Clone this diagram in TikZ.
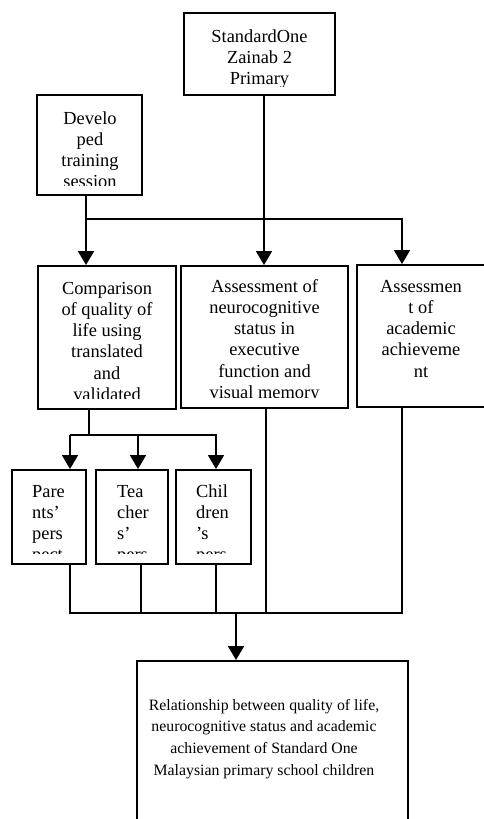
\documentclass[tikz,border=0pt]{standalone}
\usepackage{fontspec}
\setmainfont{Liberation Serif}
\usetikzlibrary{arrows.meta}
\newcommand\bxfont{\fontsize{18.4}{21.3}\selectfont}
\newcommand\relfont{\fontsize{15.8}{21.7}\selectfont}
\begin{document}
\begin{tikzpicture}[x=1pt,y=-1pt,
  box/.style={draw, line width=1.9pt, inner sep=0pt, rectangle},
  conn/.style={line width=1.7pt},
  lowconn/.style={line width=1.4pt},
  arr/.style={conn, -{Triangle[width=16pt,length=14pt]}},
  txt/.style={anchor=base, inner sep=0pt, font=\bxfont},
  ltxt/.style={anchor=base west, inner sep=0pt, font=\bxfont},
]
\useasboundingbox (0,0) rectangle (484,819);
\clip (0,0) rectangle (484,819);

% boxes
\node[box, minimum width=151pt, minimum height=82pt] (top) at (259.5,54) {};
\node[box, minimum width=105pt, minimum height=100pt] (dev) at (89.5,145) {};
\node[box, minimum width=138pt, minimum height=143pt] (cmp) at (107,337.5) {};
\node[box, minimum width=167pt, minimum height=142pt] (neu) at (264.5,337) {};
\node[box, minimum width=143pt, minimum height=142pt] (aca) at (428.5,336) {};
\node[box, minimum width=74pt, minimum height=94pt] (par) at (49,517) {};
\node[box, minimum width=72pt, minimum height=94pt] (tea) at (132,517) {};
\node[box, minimum width=75pt, minimum height=94pt] (chi) at (213.5,517) {};
\node[box, minimum width=271pt, minimum height=199pt] (rel) at (272.5,760.5) {};

% texts (clipped like the original text frames)
\begin{scope}
\clip (184,13) rectangle (335,86);
\node[txt] (ttop) at (259.5,42) {\parbox[t]{150pt}{\centering StandardOne\\Zainab 2\\Primary}};
\end{scope}
\begin{scope}
\clip (37,95) rectangle (142,185);
\node[txt] (tdev) at (90,124) {\parbox[t]{100pt}{\centering Develo\\ped\\training\\session}};
\end{scope}
\begin{scope}
\clip (38,266) rectangle (176,398);
\node[txt] (tcmp) at (107,294) {\parbox[t]{136pt}{\centering Comparison\\of quality of\\life using\\translated\\and\\validated}};
\end{scope}
\begin{scope}
\clip (181,266) rectangle (348,397);
\node[txt] (tneu) at (264.5,292) {\parbox[t]{165pt}{\centering Assessment of\\neurocognitive\\status in\\executive\\function and\\visual memory}};
\end{scope}
\begin{scope}
\clip (357,265) rectangle (484,397);
\node[txt] (taca) at (421,292) {\parbox[t]{120pt}{\centering Assessmen\\t of\\academic\\achieveme\\nt}};
\end{scope}
\begin{scope}
\clip (12,470) rectangle (251,553);
\node[ltxt] (tpar) at (32,497) {\parbox[t]{50pt}{\raggedright Pare\\nts’\\pers\\pect}};
\node[ltxt] (ttea) at (117,497) {\parbox[t]{50pt}{\raggedright Tea\\cher\\s’\\pers}};
\node[ltxt] (tchi) at (196,497) {\parbox[t]{50pt}{\raggedright Chil\\dren\\’s\\pers}};
\end{scope}
\node[anchor=base, inner sep=0pt, font=\relfont] (trel) at (264,710) {\parbox[t]{268pt}{\centering Relationship between quality of life,\\neurocognitive status and academic\\achievement of Standard One\\Malaysian primary school children}};

% junction coordinates
\coordinate (xa) at (264,0);
\coordinate (j1) at (86,219);
\coordinate (j1r) at (402,219);
\coordinate (xc) at (89,0);
\coordinate (j2l) at (70,435);
\coordinate (j2m) at (138,435);
\coordinate (j2r) at (216,435);
\coordinate (bl) at (70,613);
\coordinate (bt) at (141,613);
\coordinate (bc) at (216,613);
\coordinate (bn) at (266,613);
\coordinate (br) at (402,613);
\coordinate (bm) at (236,613);

% connectors
\draw[arr] (xa |- top.south) -- (xa |- neu.north);
\draw[arr] (j1 |- dev.south) -- (j1 |- cmp.north);
\draw[arr] (j1) -- (j1r) -- (j1r |- aca.north);
\draw[conn] (xc |- cmp.south) -- (xc |- j2l);
\draw[arr] (j2m) -- (j2m |- tea.north);
\draw[arr] (j2l) -- (j2l |- par.north);
\draw[arr] (j2l) -- (j2r) -- (j2r |- chi.north);

\draw[lowconn] (bl |- par.south) -- (bl) -- (br) -- (br |- aca.south);
\draw[lowconn] (bt |- tea.south) -- (bt);
\draw[lowconn] (bc |- chi.south) -- (bc);
\draw[lowconn] (bn |- neu.south) -- (bn);
\draw[arr] (bm) -- (bm |- rel.north);
\end{tikzpicture}
\end{document}
